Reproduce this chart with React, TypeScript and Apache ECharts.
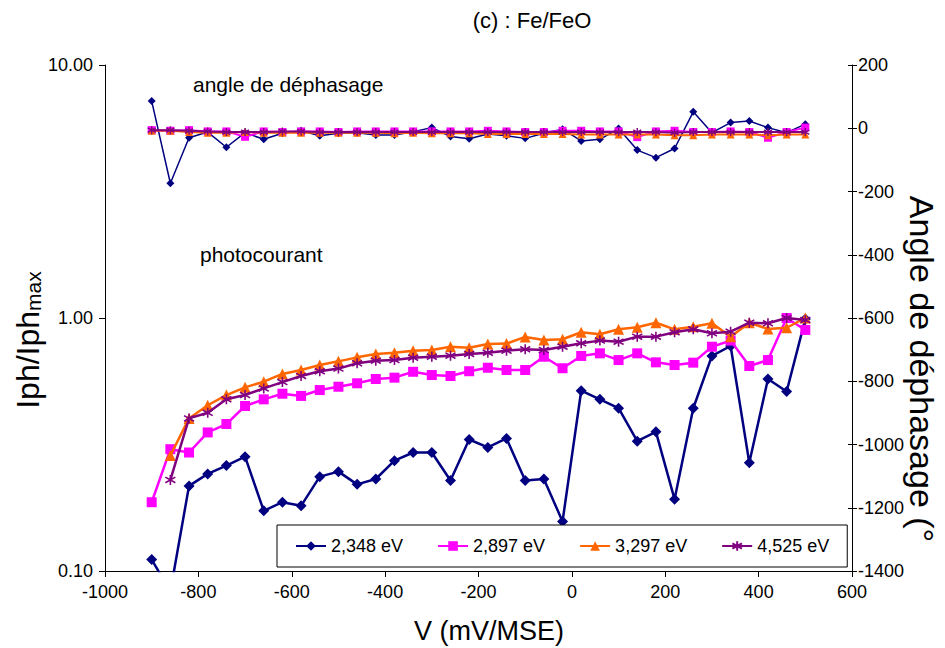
import React, { useEffect, useRef } from "react";
import * as echarts from "echarts";

const voltages = [
  -900, -860, -820, -780, -740, -700, -660, -620, -580, -540, -500, -460,
  -420, -380, -340, -300, -260, -220, -180, -140, -100, -60, -20, 20, 60,
  100, 140, 180, 220, 260, 300, 340, 380, 420, 460, 500,
];

const seriesNames = ["2,348 eV", "2,897 eV", "3,297 eV", "4,525 eV"];

// Photocurrent Iph/Iph_max (left log axis)
const photo2348 = [
  0.111, 0.083, 0.217, 0.242, 0.261, 0.283, 0.173, 0.187, 0.181, 0.236, 0.247,
  0.22, 0.231, 0.273, 0.294, 0.294, 0.228, 0.331, 0.308, 0.334, 0.228, 0.231,
  0.157, 0.516, 0.477, 0.44, 0.326, 0.355, 0.192, 0.44, 0.708, 0.775, 0.268,
  0.574, 0.512, 0.99,
];
const photo2897 = [
  0.187, 0.303, 0.294, 0.353, 0.381, 0.449, 0.477, 0.502, 0.492, 0.519, 0.535,
  0.552, 0.574, 0.581, 0.613, 0.595, 0.59, 0.616, 0.636, 0.623, 0.623, 0.703,
  0.633, 0.708, 0.725, 0.682, 0.725, 0.668, 0.652, 0.666, 0.77, 0.814, 0.646,
  0.682, 1.0, 0.897,
];
const photo3297 = [
  null, 0.286, 0.401, 0.452, 0.496, 0.532, 0.56, 0.601, 0.623, 0.652, 0.674,
  0.699, 0.721, 0.729, 0.743, 0.747, 0.77, 0.763, 0.789, 0.792, 0.842, 0.819,
  0.824, 0.878, 0.862, 0.902, 0.919, 0.958, 0.902, 0.924, 0.953, 0.844, 0.958,
  0.905, 0.915, 1.0,
];
const photo4525 = [
  null, 0.229, 0.401, 0.422, 0.477, 0.496, 0.527, 0.558, 0.59, 0.616, 0.631,
  0.662, 0.678, 0.682, 0.697, 0.703, 0.71, 0.721, 0.729, 0.743, 0.752, 0.747,
  0.77, 0.794, 0.814, 0.806, 0.844, 0.844, 0.878, 0.902, 0.87, 0.883, 0.958,
  0.953, 1.0, 0.982,
];

// Phase angle (right axis, degrees)
const phase2348 = [
  86, -174, -30, -12, -60, -14, -35, -16, -8, -24, -16, -14, -21, -21, -11, 2,
  -26, -33, -18, -24, -32, -16, -3, -40, -35, -1, -69, -93, -64, 52, -14, 18,
  23, 2, -14, 13,
];
const phase2897 = [
  -6, -8, -6, -10, -10, -27, -10, -12, -10, -10, -12, -10, -10, -10, -10, -10,
  -10, -10, -8, -10, -12, -12, -8, -8, -10, -10, -28, -10, -8, -12, -12, -10,
  -12, -30, -12, 2,
];
const phase3297 = [
  -8, -8, -12, -14, -14, -12, -14, -14, -14, -14, -14, -14, -14, -16, -14, -16,
  -16, -16, -18, -18, -18, -18, -18, -20, -20, -20, -20, -20, -22, -22, -20,
  -20, -20, -22, -20, -20,
];
const phase4525 = [
  -6, -6, -8, -10, -12, -12, -12, -10, -10, -12, -12, -12, -12, -12, -12, -12,
  -12, -12, -12, -12, -12, -12, -12, -12, -12, -12, -12, -12, -14, -12, -12,
  -12, -12, -12, -12, -12,
];

const leftTicks = [0.1, 1, 10];

const FONT = "'Liberation Sans', Arial, sans-serif";
const colors = ["#000080", "#FF00FF", "#FF6600", "#800080"];
const starPath = "path://M5,0 L5,10 M0,2.2 L10,7.8 M0,7.8 L10,2.2";
const symbols = ["diamond", "rect", "triangle", starPath];
const photoSizes = [11, 10, 11, 10];
const phaseSizes = [8, 8, 8, 8];

const pair = (ys: (number | null)[]) =>
  voltages.map((v, i) => [v, ys[i] === null ? "-" : ys[i]]);

export default function App() {
  const ref = useRef<HTMLDivElement>(null);
  useEffect(() => {
    if (!ref.current) return;
    const chart = echarts.init(ref.current, undefined, { renderer: "svg" });
    const photo = [photo2348, photo2897, photo3297, photo4525];
    const phase = [phase2348, phase2897, phase3297, phase4525];
    const series: any[] = [];
    photo.forEach((d, i) => {
      series.push({
        name: seriesNames[i],
        type: "line",
        yAxisIndex: 0,
        data: pair(d),
        clip: true,
        symbol: symbols[i],
        symbolSize: photoSizes[i],
        lineStyle: { color: colors[i], width: 2.5 },
        itemStyle: {
          color: colors[i],
          borderColor: colors[i],
          borderWidth: i === 3 ? 1.6 : 0,
        },
        z: 3 + i,
      });
    });
    phase.forEach((d, i) => {
      series.push({
        name: seriesNames[i],
        type: "line",
        yAxisIndex: 1,
        data: pair(d),
        clip: true,
        symbol: symbols[i],
        symbolSize: phaseSizes[i],
        lineStyle: { color: colors[i], width: i === 0 ? 1.5 : 2 },
        itemStyle: {
          color: colors[i],
          borderColor: colors[i],
          borderWidth: i === 3 ? 1.4 : 0,
        },
        z: 3 + i,
      });
    });

    const plain = (v: number) => String(v);

    const option: any = {
      animation: false,
      textStyle: { fontFamily: FONT },
      grid: { left: 105, right: 93, top: 65, bottom: 77 },
      xAxis: {
        type: "value",
        min: -1000,
        max: 600,
        interval: 200,
        axisLine: { onZero: false, lineStyle: { color: "#000", width: 1 } },
        axisTick: { length: 6, lineStyle: { color: "#000" } },
        axisLabel: { color: "#000", fontSize: 18, margin: 12, fontFamily: FONT, formatter: plain },
        splitLine: { show: false },
      },
      yAxis: [
        {
          type: "log",
          logBase: 10,
          min: leftTicks[0],
          max: leftTicks[leftTicks.length - 1],
          position: "left",
          axisLine: { show: true, onZero: false, lineStyle: { color: "#000" } },
          axisTick: { show: true, length: 6, lineStyle: { color: "#000" } },
          axisLabel: {
            color: "#000",
            fontSize: 18,
            margin: 12,
            fontFamily: FONT,
            formatter: (v: number) => Number(v).toFixed(2),
          },
          splitLine: { show: false },
        },
        {
          type: "value",
          min: -1400,
          max: 200,
          interval: 200,
          position: "right",
          axisLine: { show: true, onZero: false, lineStyle: { color: "#000" } },
          axisTick: { show: true, length: 5, lineStyle: { color: "#000" } },
          axisLabel: { color: "#000", fontSize: 18, margin: 6, fontFamily: FONT, formatter: plain },
          splitLine: { show: false },
        },
        {
          type: "value",
          min: -1400,
          max: 200,
          interval: 200,
          position: "right",
          axisLine: { show: false, onZero: false },
          axisTick: { show: true, inside: true, length: 4, lineStyle: { color: "#000" } },
          axisLabel: { show: false },
          splitLine: { show: false },
        },
      ],
      legend: {
        data: seriesNames,
        left: 277,
        top: 525,
        padding: [12, 18, 12, 18],
        itemGap: 34,
        itemWidth: 30,
        itemHeight: 12,
        backgroundColor: "#fff",
        borderColor: "#000",
        borderWidth: 1,
        borderRadius: 0,
        textStyle: { color: "#000", fontSize: 18, fontFamily: FONT },
      },
      graphic: [
        {
          type: "text",
          x: 532,
          y: 20,
          style: {
            text: "(c) : Fe/FeO",
            fontSize: 22,
            fontFamily: FONT,
            fill: "#000",
            align: "center",
            verticalAlign: "middle",
          },
        },
        {
          type: "text",
          x: 489,
          y: 631,
          style: {
            text: "V (mV/MSE)",
            fontSize: 27,
            fontFamily: FONT,
            fill: "#000",
            align: "center",
            verticalAlign: "middle",
          },
        },
        {
          type: "text",
          x: 28,
          y: 340,
          rotation: Math.PI / 2,
          style: {
            text: "{a|Iph/Iph}{b|max}",
            align: "center",
            verticalAlign: "middle",
            fill: "#000",
            rich: {
              a: { fontSize: 32, fontFamily: FONT, fill: "#000", lineHeight: 32, verticalAlign: "top" },
              b: {
                fontSize: 21,
                fontFamily: FONT,
                fill: "#000",
                lineHeight: 21,
                padding: [15, 0, 0, 0],
                verticalAlign: "bottom",
              },
            },
          },
        },
        {
          type: "text",
          x: 922,
          y: 369,
          rotation: -Math.PI / 2,
          style: {
            text: "Angle de déphasage (°",
            fontSize: 34,
            fontFamily: FONT,
            fill: "#000",
            align: "center",
            verticalAlign: "middle",
          },
        },
        {
          type: "text",
          x: 193,
          y: 84,
          style: {
            text: "angle de déphasage",
            fontSize: 21,
            fontFamily: FONT,
            fill: "#000",
            align: "left",
            verticalAlign: "middle",
          },
        },
        {
          type: "text",
          x: 200,
          y: 254,
          style: {
            text: "photocourant",
            fontSize: 21,
            fontFamily: FONT,
            fill: "#000",
            align: "left",
            verticalAlign: "middle",
          },
        },
      ],
      series,
    };
    chart.setOption(option);
    return () => chart.dispose();
  }, []);
  return (
    <div
      ref={ref}
      style={{ position: "absolute", left: 0, top: 0, width: 945, height: 648 }}
    />
  );
}
